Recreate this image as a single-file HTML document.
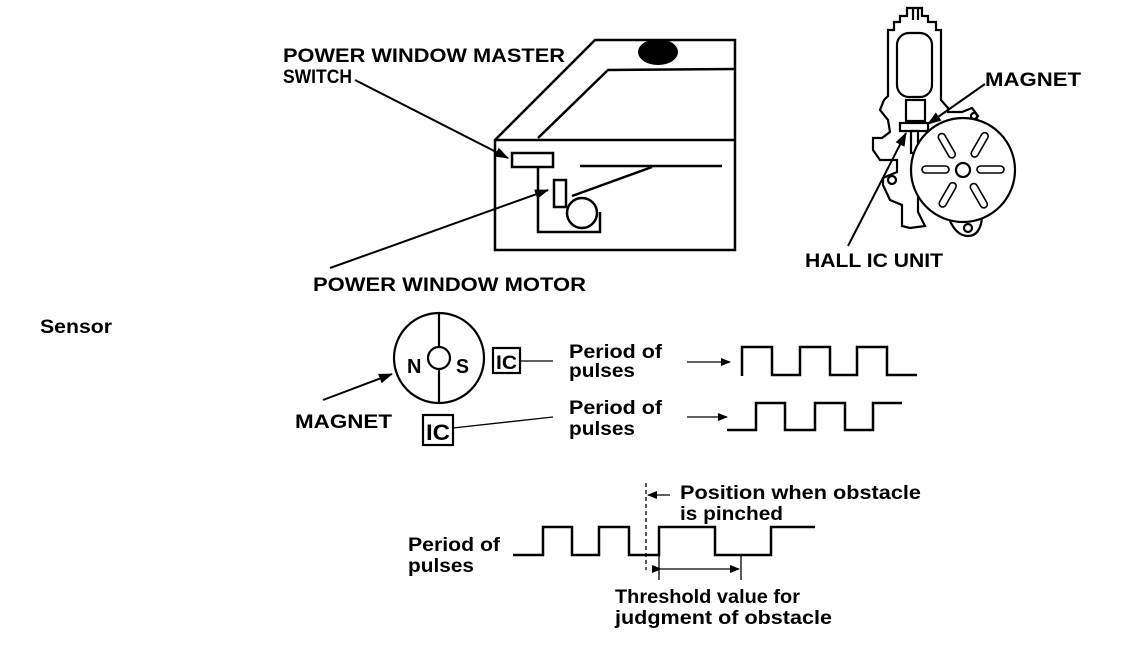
<!DOCTYPE html>
<html><head><meta charset="utf-8"><style>
html,body{margin:0;padding:0;background:#fff}
svg{display:block}
text{font-family:"Liberation Sans",Arial,sans-serif;font-weight:bold;fill:#000}
</style></head><body>
<svg width="1136" height="656" viewBox="0 0 1136 656" xmlns="http://www.w3.org/2000/svg">
<defs>
<marker id="ah" markerWidth="10" markerHeight="8" refX="9" refY="4" orient="auto" markerUnits="userSpaceOnUse"><path d="M0,0 L10,4 L0,8 z" fill="#000"/></marker>
<marker id="ahs" markerWidth="14" markerHeight="10" refX="13" refY="5" orient="auto-start-reverse" markerUnits="userSpaceOnUse"><path d="M0,0 L14,5 L0,10 z" fill="#000"/></marker>
</defs>
<g fill="none" stroke="#000" stroke-width="2.5">
<path d="M495,140 L595,40 L735,40 L735,250 L495,250 Z"/>
<path d="M495,140 L735,140"/>
<path d="M538,138 L608,70 L735,69"/>
<rect x="512" y="153" width="41" height="14"/>
<path d="M538,167 L538,232 L600,232 L600,212"/>
<rect x="554" y="180" width="12" height="27"/>
<circle cx="582" cy="213" r="15"/>
<path d="M572,196 L652,167"/>
<path d="M580,166 L722,166"/>
</g>
<ellipse cx="658" cy="52" rx="20" ry="13" fill="#000"/>
<g stroke="#000" stroke-width="2" fill="none">
<line x1="355" y1="80" x2="508" y2="158" marker-end="url(#ahs)"/>
<line x1="330" y1="268" x2="548" y2="190" marker-end="url(#ahs)"/>
</g>
<g fill="none" stroke="#000" stroke-width="2.2">
<path d="M907,8 L922,8 L922,16 L928,16 L928,22 L936,22 L936,30 L941,30 L941,100 L948,108 L948,112 L962,112 L972,108 L978,116 L974,124 L960,126 L935,140 L925,158 L918,168 L918,212 L923,222 L925,226 L910,228 L902,226 L902,205 L890,200 L883,185 L883,178 L897,172 L897,160 L880,160 L873,150 L873,138 L882,138 L890,132 L888,120 L880,110 L884,100 L888,96 L888,30 L894,30 L894,22 L900,22 L900,16 L907,16 Z"/>
<line x1="913" y1="8" x2="913" y2="20"/><line x1="918" y1="8" x2="918" y2="20"/>
<rect x="897" y="33" width="35" height="64" rx="12"/>
<rect x="906" y="100" width="19" height="21"/>
<rect x="900" y="123" width="28" height="8"/>
<rect x="911" y="131" width="7" height="22"/>
<circle cx="892" cy="180" r="4"/>
<circle cx="963" cy="170" r="52" fill="#fff"/>
<circle cx="963" cy="170" r="7"/>
<path d="M950,221 Q957,236 968,236 Q980,236 982,218"/>
<circle cx="968" cy="228" r="4"/>
<circle cx="974" cy="116" r="3"/>
<g stroke-width="1.6">
<rect x="922" y="166" width="27" height="7" rx="3.5"/>
<rect x="977" y="166" width="27" height="7" rx="3.5"/>
<rect x="934" y="142" width="27" height="7" rx="3.5" transform="rotate(60 947 145)"/>
<rect x="966" y="142" width="27" height="7" rx="3.5" transform="rotate(-60 979 145)"/>
<rect x="934" y="192" width="27" height="7" rx="3.5" transform="rotate(-60 947 195)"/>
<rect x="966" y="192" width="27" height="7" rx="3.5" transform="rotate(60 979 195)"/>
</g>
</g>
<g stroke="#000" stroke-width="2" fill="none">
<line x1="985" y1="84" x2="928" y2="124" marker-end="url(#ahs)"/>
<line x1="848" y1="246" x2="906" y2="133" marker-end="url(#ahs)"/>
</g>
<!-- sensor -->
<g fill="none" stroke="#000" stroke-width="2.2">
<circle cx="439" cy="358" r="45"/>
<circle cx="439" cy="358" r="11"/>
<line x1="439" y1="313" x2="439" y2="347"/><line x1="439" y1="369" x2="439" y2="403"/>
<rect x="493" y="348" width="27" height="25"/>
<rect x="423" y="415" width="30" height="30"/>
</g>
<g stroke="#000" stroke-width="1.3" fill="none">
<line x1="520" y1="361" x2="553" y2="361"/>
<line x1="453" y1="428" x2="553" y2="417"/>
<line x1="687" y1="362" x2="730" y2="362" marker-end="url(#ah)"/>
<line x1="687" y1="417" x2="727" y2="417" marker-end="url(#ah)"/>
<line x1="323" y1="400" x2="392" y2="374" marker-end="url(#ahs)" stroke-width="2"/>
<line x1="646" y1="483" x2="646" y2="570" stroke-dasharray="4,3"/>
<line x1="670" y1="495" x2="648" y2="495" marker-end="url(#ah)"/>
<line x1="659" y1="555" x2="659" y2="580"/>
<line x1="741" y1="555" x2="741" y2="580"/>
<line x1="661" y1="569" x2="739" y2="569" marker-start="url(#ah)" marker-end="url(#ah)"/>
</g>
<g fill="none" stroke="#000" stroke-width="2.5">
<path d="M742,376 L742,347 L772,347 L772,375 L800,375 L800,347 L830,347 L830,375 L857,375 L857,347 L887,347 L887,375 L917,375"/>
<path d="M727,430 L756,430 L756,403 L785,403 L785,430 L815,430 L815,403 L845,403 L845,430 L873,430 L873,403 L902,403"/>
<path d="M513,555 L543,555 L543,527 L572,527 L572,555 L599,555 L599,527 L629,527 L629,555 L659,555 L659,527 L715,527 L715,555 L771,555 L771,527 L815,527"/>
</g>
<g font-size="19">
<text x="283" y="62" textLength="282" lengthAdjust="spacingAndGlyphs">POWER WINDOW MASTER</text>
<text x="283" y="83" textLength="69" lengthAdjust="spacingAndGlyphs">SWITCH</text>
<text x="313" y="291" textLength="273" lengthAdjust="spacingAndGlyphs">POWER WINDOW MOTOR</text>
<text x="985" y="86" textLength="96" lengthAdjust="spacingAndGlyphs">MAGNET</text>
<text x="805" y="267" textLength="138" lengthAdjust="spacingAndGlyphs">HALL IC UNIT</text>
<text x="40" y="333" textLength="72" lengthAdjust="spacingAndGlyphs">Sensor</text>
<text x="407" y="373" font-size="20">N</text>
<text x="456" y="373" font-size="20" textLength="13" lengthAdjust="spacingAndGlyphs">S</text>
<text x="496" y="369" font-size="19" textLength="21" lengthAdjust="spacingAndGlyphs">IC</text>
<text x="426" y="440" font-size="22" textLength="24" lengthAdjust="spacingAndGlyphs">IC</text>
<text x="569" y="358" textLength="93" lengthAdjust="spacingAndGlyphs">Period of</text>
<text x="569" y="377" textLength="66" lengthAdjust="spacingAndGlyphs">pulses</text>
<text x="569" y="414" textLength="93" lengthAdjust="spacingAndGlyphs">Period of</text>
<text x="569" y="435" textLength="66" lengthAdjust="spacingAndGlyphs">pulses</text>
<text x="295" y="428" textLength="97" lengthAdjust="spacingAndGlyphs">MAGNET</text>
<text x="680" y="499" textLength="241" lengthAdjust="spacingAndGlyphs">Position when obstacle</text>
<text x="680" y="520" textLength="103" lengthAdjust="spacingAndGlyphs">is pinched</text>
<text x="408" y="551" textLength="92" lengthAdjust="spacingAndGlyphs">Period of</text>
<text x="408" y="572" textLength="66" lengthAdjust="spacingAndGlyphs">pulses</text>
<text x="615" y="603" textLength="185" lengthAdjust="spacingAndGlyphs">Threshold value for</text>
<text x="615" y="624" textLength="217" lengthAdjust="spacingAndGlyphs">judgment of obstacle</text>
</g>
</svg>
</body></html>
